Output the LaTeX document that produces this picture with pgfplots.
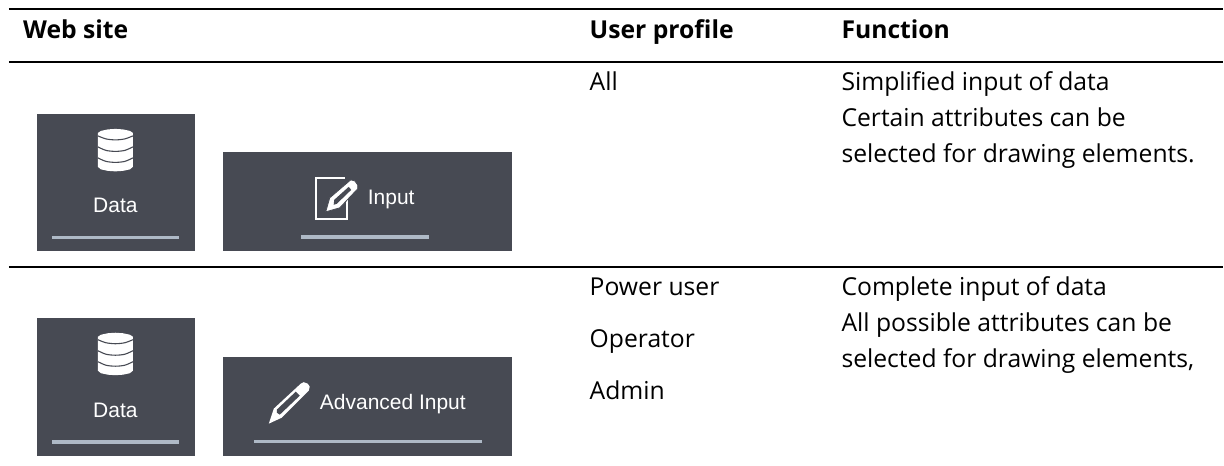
\documentclass[border=0pt]{standalone}
\usepackage{pgfplots}
\pgfplotsset{compat=1.18}
\usepackage{fontspec}
\setmainfont{Open Sans}
\newfontfamily\ui{Liberation Sans}
\definecolor{panel}{HTML}{474A53}
\definecolor{bar}{HTML}{AEB9C6}
\newcommand{\tb}[3]{\node[anchor=base west,inner sep=0pt] at (axis cs:#1,#2) {\fontsize{24.7}{28}\selectfont #3};}
\newcommand{\tbb}[3]{\node[anchor=base west,inner sep=0pt] at (axis cs:#1,#2) {\fontsize{24.7}{28}\selectfont\bfseries #3};}
\newcommand{\dbicon}[1]{%
\addplot[fill=white,draw=none,yshift=#1] coordinates {(98,133)(101,131)(108,129.5)(115.5,129)(123,129.5)(130,131)(133,133)(133,167)(130,169.5)(123,171)(115.5,171.5)(108,171)(101,169.5)(98,167)} --cycle;
\addplot[panel,line width=1.1pt,smooth,yshift=#1] coordinates {(98,136)(106,139)(115.5,140)(125,139)(133,136)};
\addplot[panel,line width=1.1pt,smooth,yshift=#1] coordinates {(98,147)(106,150.5)(115.5,151.5)(125,150.5)(133,147)};
\addplot[panel,line width=1.1pt,smooth,yshift=#1] coordinates {(98,158)(106,161.5)(115.5,162.5)(125,161.5)(133,158)};
}
\begin{document}
\begin{tikzpicture}
\begin{axis}[
  width=1224pt,height=466pt,scale only axis,
  xmin=0,xmax=1224,ymin=0,ymax=466,y dir=reverse,
  hide axis,clip=false]
\path (axis cs:0,0) rectangle (axis cs:1224,466);
% rules
\addplot[black,line width=2pt] coordinates {(9,9)(1224,9)};
\addplot[black,line width=2pt] coordinates {(9,62)(1224,62)};
\addplot[black,line width=2pt] coordinates {(9,267)(1224,267)};
% panels
\addplot[fill=panel,draw=none] coordinates {(37,114)(195,114)(195,251)(37,251)} --cycle;
\addplot[fill=panel,draw=none] coordinates {(223,152)(512,152)(512,251)(223,251)} --cycle;
\addplot[fill=panel,draw=none] coordinates {(37,318)(195,318)(195,456)(37,456)} --cycle;
\addplot[fill=panel,draw=none] coordinates {(223,357)(512,357)(512,456)(223,456)} --cycle;
% underbars
\addplot[bar,line width=3.4pt] coordinates {(52,237.5)(179,237.5)};
\addplot[bar,line width=3.4pt] coordinates {(301,237)(429,237)};
\addplot[bar,line width=3.4pt] coordinates {(52,442.5)(179,442.5)};
\addplot[bar,line width=3.4pt] coordinates {(254,442)(482,442)};
% database icons
\dbicon{0pt}
\dbicon{-204pt}
% input icon
\addplot[draw=white,line width=1.9pt] coordinates {(345,178)(316,178)(316,219)(347,219)(347,197)};
\addplot[fill=white,draw=panel,line width=0.8pt] coordinates {(326,212)(330,198)(351,180)(355,181)(358,185)(358,189)(340,208)} --cycle;
\addplot[fill=panel,draw=none] coordinates {(334,205)(334.5,200)(349,187)(351.5,190)(337,204)} --cycle;
% advanced pencil
\addplot[fill=white,draw=none] coordinates {(269,424)(274,409)(301,384)(304,382.5)(308,384)(310,387)(309,391)(282,418)} --cycle;
\addplot[fill=panel,draw=none] coordinates {(277,413)(277,410)(296,392)(300,396)(280,415)} --cycle;
% ui text
\node[anchor=center,text=white,inner sep=0pt] at (axis cs:115.5,206) {\ui\fontsize{21}{25}\selectfont Data};
\node[anchor=center,text=white,inner sep=0pt] at (axis cs:115.5,410.5) {\ui\fontsize{21}{25}\selectfont Data};
\node[anchor=west,text=white,inner sep=0pt] at (axis cs:368,200) {\ui\fontsize{21}{25}\selectfont Input};
\node[anchor=west,text=white,inner sep=0pt] at (axis cs:320,404) {\ui\fontsize{21}{25}\selectfont Advanced Input};
% table text
\tbb{23}{39}{Web site}
\tbb{590}{39}{User profile}
\tbb{842}{39}{Function}
\tb{590}{91}{All}
\tb{842}{91}{Simplified input of data}
\tb{842}{127}{Certain attributes can be}
\tb{842}{163}{selected for drawing elements.}
\tb{590}{296}{Power user}
\tb{590}{348}{Operator}
\tb{590}{400}{Admin}
\tb{842}{296}{Complete input of data}
\tb{842}{332}{All possible attributes can be}
\tb{842}{368}{selected for drawing elements,}
\end{axis}
\end{tikzpicture}
\end{document}
